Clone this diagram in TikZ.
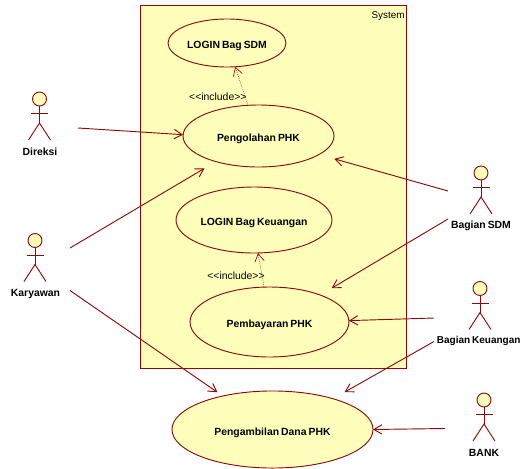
\documentclass[tikz,border=0pt]{standalone}
\usepackage{fontspec}
\setmainfont[WordSpace=0.7]{Liberation Sans}
\usepackage{tikz}
\usetikzlibrary{arrows.meta}
\usetikzlibrary{shapes.geometric}
\definecolor{umlred}{HTML}{8B0A0A}
\definecolor{umlfill}{HTML}{FFFFBB}

\begin{document}
\begin{tikzpicture}[
			x=0.75pt, y=-0.75pt,
			every node/.style={inner sep=0pt, outer sep=0pt, font=\fontsize{7.8}{9}\selectfont},
			usecase/.style={ellipse, draw=umlred, fill=umlfill, line width=0.7pt, text height=10pt, text depth=1.6pt, font=\fontsize{7.8}{9}\selectfont\bfseries},
			actorname/.style={font=\fontsize{7.8}{9}\selectfont\bfseries},
			actorhead/.style={circle, draw=umlred, fill=umlfill, line width=0.7pt, minimum size=10.5pt},
			assoc/.style={draw=umlred, line width=0.7pt, -{Straight Barb[length=6pt, width=7pt]}},
			incl/.style={draw=umlred, line width=0.5pt, densely dotted, -{Straight Barb[length=6pt, width=7pt, line width=0.5pt]}},
			pics/actor/.style={code={
				\node[actorhead] (-head) at (0,0) {};
				\draw[umlred, line width=0.7pt] (-head) -- (0,24) (-8.5,14.5) -- (8.5,14.5);
				\draw[umlred, line width=0.7pt] (-11,41) -- (0,24) -- (11,41);
			}}
		]
		\useasboundingbox (0,0) rectangle (521,468);

		% --- System box ---
		\node[draw=umlred, fill=umlfill, line width=0.7pt, minimum width=199.5pt, minimum height=272.6pt, anchor=north west] (system) at (140.5,5) {};
		\node[anchor=east, font=\fontsize{7.4}{9}\selectfont] (systemName) at (404.5,16) {System};

		% --- Use cases ---
		\node[usecase, minimum width=88.5pt, minimum height=36pt] (loginSdm) at (227,43) {LOGIN Bag SDM};
		\node[usecase, minimum width=113.2pt, minimum height=46.5pt] (pengolahan) at (258.5,136) {Pengolahan PHK};
		\node[usecase, minimum width=117pt, minimum height=49.5pt] (loginKeuangan) at (254,220) {LOGIN Bag Keuangan};
		\node[usecase, minimum width=119.2pt, minimum height=52.5pt] (pembayaran) at (269.5,322) {Pembayaran PHK};
		\node[usecase, minimum width=150.8pt, minimum height=57.8pt] (pengambilan) at (272.5,429.5) {Pengambilan Dana PHK};

		% --- Actors ---
		\pic (direksi) at (39.5,99) {actor};
		\node[actorname] (direksiName) at (40,152) {Direksi};
		\pic (karyawan) at (35,240.5) {actor};
		\node[actorname] (karyawanName) at (35.5,293.5) {Karyawan};
		\pic (sdm) at (481,173) {actor};
		\node[actorname] (sdmName) at (481,226) {Bagian SDM};
		\pic (keuangan) at (480,288.5) {actor};
		\node[actorname, anchor=east, font=\fontsize{7.5}{9}\selectfont\bfseries] (keuanganName) at (520.5,341) {Bagian Keuangan};
		\pic (bank) at (484,400) {actor};
		\node[actorname] (bankName) at (484,453) {BANK};

		% --- Free ends of the associations ---
		\coordinate (direksiOut) at (78,128);
		\coordinate (karyawanUp) at (70,248);
		\coordinate (karyawanDown) at (70,290.5);
		\coordinate (sdmUp) at (448,191);
		\coordinate (sdmDown) at (448,219);
		\coordinate (keuanganUp) at (434,318);
		\coordinate (keuanganDown) at (434,341.5);
		\coordinate (bankOut) at (445,428.5);

		% --- Associations ---
		\draw[assoc] (direksiOut) -- (pengolahan.179);
		\draw[assoc, shorten >=9.9pt] (karyawanUp) -- (pengolahan.211);
		\draw[assoc, shorten >=4.9pt] (karyawanDown) -- (pengambilan.146);
		\draw[assoc, shorten >=11.9pt] (sdmUp) -- (pengolahan.343);
		\draw[assoc, shorten >=10pt] (sdmDown) -- (pembayaran.28);
		\draw[assoc] (keuanganUp) -- (pembayaran.1);
		\draw[assoc, shorten >=10pt] (keuanganDown) -- (pengambilan.27);
		\draw[assoc] (bankOut) -- (pengambilan.east);

		% --- Includes ---
		\draw[incl] (pengolahan.109) -- (loginSdm.289) node[pos=0.22, anchor=east, xshift=1pt] (includeSdm) {{<}{<}include{>}{>}};
		\draw[incl] (pembayaran.99) -- (loginKeuangan.277) node[pos=0.34, anchor=east, xshift=2pt] (includeKeuangan) {{<}{<}include{>}{>}};

	\end{tikzpicture}
\end{document}
